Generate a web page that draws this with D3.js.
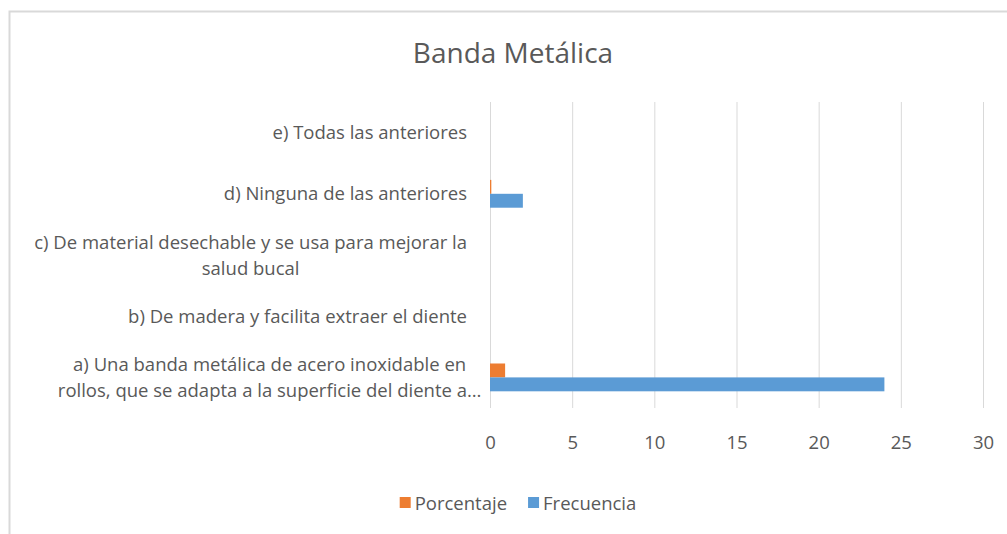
<!DOCTYPE html>
<html>
<head>
<meta charset="utf-8">
<script src="https://cdn.jsdelivr.net/npm/d3@7"></script>
<style>
  body { margin: 0; background: #fff; }
  svg { display: block; font-family: "Open Sans", "Liberation Sans", sans-serif; }
</style>
</head>
<body>
<svg></svg>
<script>
// data
const categories = [
  'e) Todas las anteriores',
  'd) Ninguna de las anteriores',
  'c) De material desechable y se usa para mejorar la|salud bucal',
  'b) De madera y facilita extraer el diente',
  'a) Una banda metálica de acero inoxidable en|rollos, que se adapta a la superficie del diente a…'
]
const seriesNames = ['Porcentaje', 'Frecuencia']
const porcentaje = [0, 0.08, 0, 0, 0.92]
const frecuencia = [0, 2, 0, 0, 24]
const xTicks = [0, 5, 10, 15, 20, 25, 30]

const width = 1007
const height = 534
const colors = { Porcentaje: '#ED7D31', Frecuencia: '#5B9BD5' }
const textColor = '#595959'
const gridColor = '#D9D9D9'
const fontSize = '18.5px'

const plot = { left: 490, right: 983, top: 102, bottom: 408 }
const labelRight = 467

let svg = d3.select('svg').attr('width', width).attr('height', height)

// chart border (bottom and right run off the picture)
svg.append('rect')
  .attr('x', 9.5).attr('y', 11.5)
  .attr('width', 1040).attr('height', 560)
  .attr('fill', 'none')
  .attr('stroke', gridColor)
  .attr('stroke-width', 2)

// title
svg.append('text')
  .attr('x', 513).attr('y', 63)
  .attr('text-anchor', 'middle')
  .attr('fill', textColor)
  .style('font-size', '28px')
  .text('Banda Metálica')

let xScale = d3.scaleLinear()
  .domain([0, 30])
  .range([plot.left, plot.right])

let yScale = d3.scaleBand()
  .domain(categories)
  .range([plot.top, plot.bottom])

let inner = d3.scaleBand()
  .domain(seriesNames)
  .range([0, yScale.bandwidth()])
  .paddingOuter(1.2)
  .paddingInner(0)

// gridlines + tick labels
let xAxis = d3.axisBottom(xScale)
  .tickValues(xTicks)
  .tickSize(-(plot.bottom - plot.top))
  .tickPadding(28)

let gx = svg.append('g')
  .attr('transform', 'translate(0,' + plot.bottom + ')')
  .call(xAxis)
gx.select('.domain').remove()
gx.selectAll('line').attr('stroke', gridColor)
gx.selectAll('text')
  .attr('fill', textColor)
  .style('font-size', fontSize)
  .style('font-family', '"Open Sans", sans-serif')

// bars
const rows = categories.map((c, i) => ({ cat: c, Porcentaje: porcentaje[i], Frecuencia: frecuencia[i] }))

seriesNames.forEach(name => {
  svg.append('g')
    .selectAll('rect')
    .data(rows)
    .enter()
    .append('rect')
    .attr('x', xScale(0))
    .attr('y', d => yScale(d.cat) + inner(name))
    .attr('width', d => xScale(d[name]) - xScale(0))
    .attr('height', inner.bandwidth())
    .attr('fill', colors[name])
})

// category labels
const lineHeight = 26
categories.forEach(cat => {
  let lines = cat.split('|')
  let g = svg.append('g')
  let cy = yScale(cat) + yScale.bandwidth() / 2
  let texts = lines.map((ln, j) => g.append('text')
    .attr('y', cy + (j - (lines.length - 1) / 2) * lineHeight + 6.5)
    .attr('text-anchor', 'middle')
    .attr('fill', textColor)
    .style('font-size', fontSize)
    .text(ln))
  // width without trailing ellipsis decides the right alignment
  let widths = texts.map(t => {
    let full = t.node().getComputedTextLength()
    let s = t.text()
    if (s.endsWith('…')) {
      let n = t.node().getSubStringLength(s.length - 1, 1)
      return full - n * 2
    }
    return full
  })
  let maxW = d3.max(widths)
  texts.forEach(t => t.attr('x', labelRight - maxW / 2))
})

// legend, centred under the plot
let legend = svg.append('g').attr('transform', 'translate(0,503)')
let items = seriesNames.map(name => {
  let r = legend.append('rect')
    .attr('y', -6)
    .attr('width', 11).attr('height', 11)
    .attr('fill', colors[name])
  let t = legend.append('text')
    .attr('y', 6.5)
    .attr('fill', textColor)
    .style('font-size', fontSize)
    .text(name)
  return { r, t, w: t.node().getComputedTextLength() }
})
let total = d3.sum(items, d => 15 + d.w) + 21 * (items.length - 1)
let lx = 518 - total / 2
items.forEach(d => {
  d.r.attr('x', lx)
  d.t.attr('x', lx + 15)
  lx += 15 + d.w + 21
})
</script>
</body>
</html>
